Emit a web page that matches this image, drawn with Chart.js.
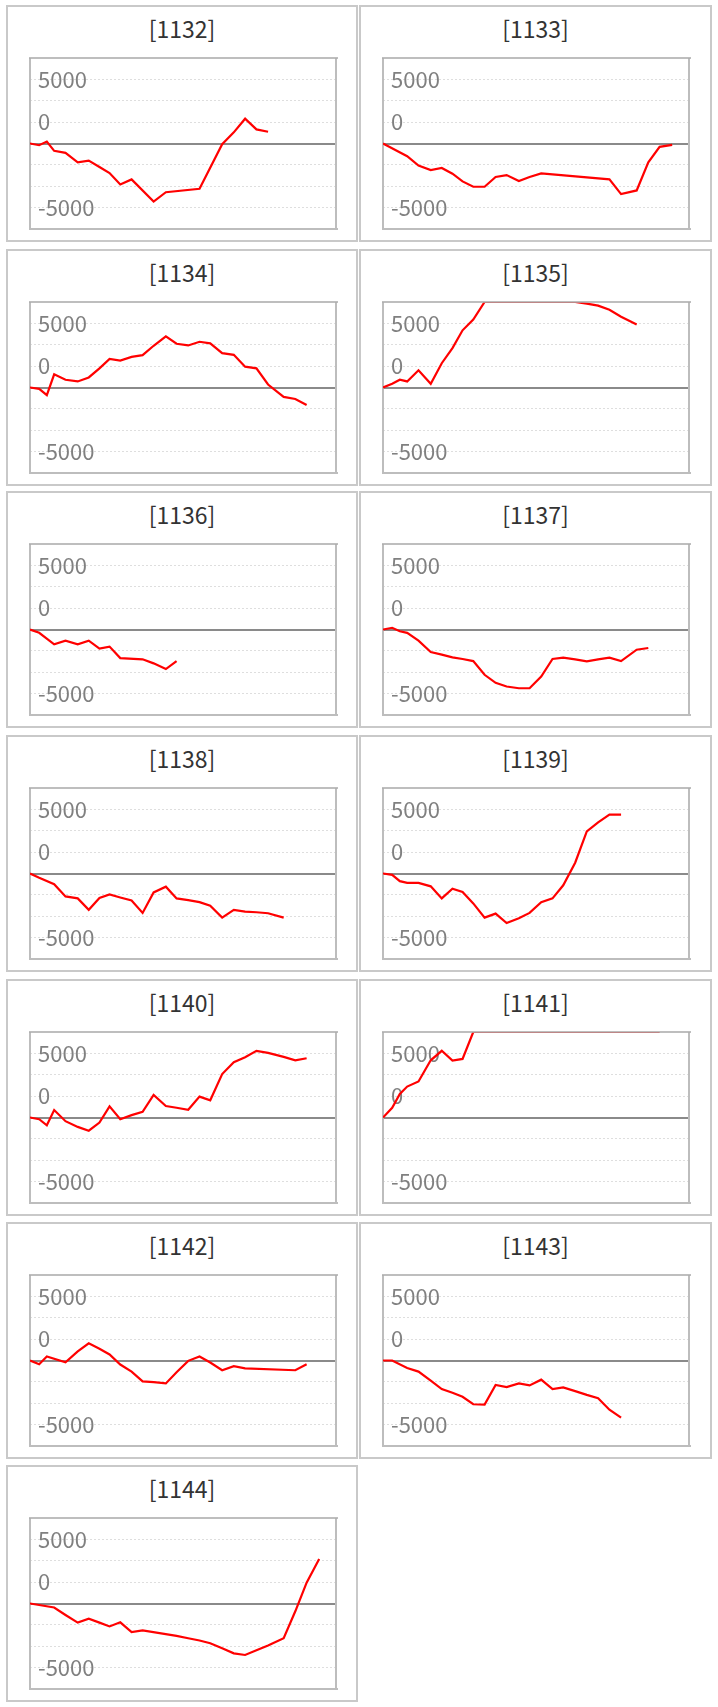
<!DOCTYPE html>
<html><head><meta charset="utf-8">
<script src="https://cdn.jsdelivr.net/npm/chart.js@4.4.1/dist/chart.umd.min.js"></script>
<style>
html,body{margin:0;padding:0;background:#fff;}
body{width:718px;height:1707px;position:relative;overflow:hidden;font-family:"Noto Sans CJK JP",sans-serif;}
.panel{position:absolute;box-sizing:border-box;border:2px solid #c9c9c9;width:352px;height:237px;background:#fff;}
.title{position:absolute;left:0;right:0;top:6px;height:30px;line-height:30px;text-align:center;font-size:23px;color:#333;}
.panel canvas{position:absolute;left:16px;top:45px;}
</style></head>
<body>
<script>
// common time positions (share of the period, %)
const xPos = [0,3.0,5.5,7.9,11.6,15.6,19.2,22.7,26.0,29.5,33.2,36.8,40.4,44.4,47.9,51.7,55.4,58.9,62.8,66.6,70.3,74.0,77.8,82.9,86.7,90.4,94.5];
const _ = null;
const codes = ['1132','1133','1134','1135','1136','1137','1138','1139','1140','1141','1142','1143','1144'];
const s1132 = [0,-200,230,-860,-1100,-2200,-2000,-2750,-3450,-4800,-4200,_,-6800,-5700,_,_,-5300,_,-80,1300,2900,1650,1370];
const s1133 = [0,_,_,-1490,-2590,-3100,-2860,-3530,-4430,-5060,-5060,-3920,-3690,-4390,-3920,-3490,_,_,_,_,_,-4190,-5920,-5490,-2200,-390,-160];
const s1134 = [0,-160,-900,1540,910,710,1180,2240,3350,3150,3580,3780,4880,5980,5120,4920,5350,5160,4020,3820,2440,2240,350,-1100,-1340,-2050];
const s1135 = [0,430,910,710,2010,430,2840,4610,6690,7950,10000,10000,10000,10000,10000,10000,10000,10000,10000,9800,9570,9090,8270,7360];
const s1136 = [0,-390,_,-1730,-1300,-1730,-1300,-2240,-2000,-3340,_,-3490,-3960,-4630,-3690];
const s1137 = [0,200,-200,-390,-1300,-2630,-2940,-3260,-3450,-3690,-5300,-6240,-6670,-6870,-6870,-5500,-3450,-3300,-3490,-3730,-3490,-3300,-3690,-2360,-2160];
const s1138 = [0,-510,_,-1260,-2680,-2910,-4250,-2870,-2440,-2800,-3150,-4610,-2210,-1540,-2910,-3110,-3350,-3780,-5160,-4250,-4450,-4530,-4650,-5160];
const s1139 = [0,-160,-900,-1100,-1100,-1500,-2910,-1770,-2170,-3500,-5160,-4690,-5790,-5240,-4610,-3350,-2910,-1380,1260,4920,5980,6890,6890];
const s1140 = [0,-200,-910,870,-430,-1100,-1540,-590,1300,-200,280,670,2640,1340,1140,910,2440,2010,5080,6460,7050,7800,7560,7090,6690,6930];
const s1141 = [0,1140,2760,3620,4210,6690,7800,6650,6850,10000,10000,10000,10000,10000,10000,10000,10000,10000,10000,10000,10000,10000,10000,10000,10000,10000];
const s1142 = [0,-430,470,_,-200,1060,2010,1380,710,-470,-1300,-2440,-2520,-2680,-1380,-40,470,-240,-1140,-670,-910,_,_,_,-1140,-430];
const s1143 = [0,0,_,-870,-1300,-2360,-3350,-3780,-4250,-5120,-5160,-2870,-3110,-2680,-2910,-2240,-3350,-3150,-3580,-4020,-4410,-5750,-6690];
const s1144 = [0,_,_,-470,-1340,-2240,-1770,-2240,-2680,-2200,-3350,-3150,_,_,-3780,-4060,-4330,-4650,-5240,-5830,-6020,-5470,-4920,-4060,-910,2440,5200];
const seriesList = [s1132,s1133,s1134,s1135,s1136,s1137,s1138,s1139,s1140,s1141,s1142,s1143,s1144];
// y axis
const yMin = -10000, yMax = 10000, yStep = 2500;
const yTickValues = [7500, 2500, -7500];
const yTickLabels = ['5000', '0', '-5000'];

// layout
const rowTops = [5,249,491,735,979,1222,1465];
const colLefts = [6,359];
const M = 6, PW = 306, PH = 171;

const frame = {
  id: 'frame',
  beforeDatasetsDraw(chart) {
    const {ctx, chartArea: a} = chart;
    ctx.save();
    ctx.strokeStyle = '#bdbdbd'; ctx.lineWidth = 2;
    ctx.beginPath();
    ctx.moveTo(a.left, a.top); ctx.lineTo(a.left, a.bottom);
    ctx.lineTo(a.right + 2, a.bottom);
    ctx.moveTo(a.right, a.top); ctx.lineTo(a.right, a.bottom);
    ctx.stroke();
    ctx.restore();
  },
  afterDatasetsDraw(chart) {
    const {ctx, chartArea: a} = chart;
    ctx.save();
    ctx.strokeStyle = 'rgba(172,172,172,0.78)'; ctx.lineWidth = 2;
    ctx.beginPath();
    ctx.moveTo(a.left - 1, a.top); ctx.lineTo(a.right + 2, a.top);
    ctx.stroke();
    ctx.restore();
  }
};

codes.forEach((code, i) => {
  const row = Math.floor(i / 2), col = i % 2;
  const p = document.createElement('div');
  p.className = 'panel';
  p.style.left = colLefts[col] + 'px';
  p.style.top = rowTops[row] + 'px';
  if (col === 1) p.style.width = '353px';
  const t = document.createElement('div');
  t.className = 'title';
  t.textContent = '[' + code + ']';
  p.appendChild(t);
  const c = document.createElement('canvas');
  c.width = PW + 2 * M; c.height = PH + 2 * M;
  c.style.width = c.width + 'px'; c.style.height = c.height + 'px';
  p.appendChild(c);
  document.body.appendChild(p);

  const vals = seriesList[i];
  const pts = [];
  vals.forEach((v, k) => { if (v !== null) pts.push({x: xPos[k], y: v}); });

  new Chart(c, {
    type: 'line',
    data: { datasets: [{ data: pts, borderColor: '#ff0000', borderWidth: 2.2, pointRadius: 0, tension: 0, fill: false, spanGaps: true }] },
    options: {
      responsive: false, animation: false, devicePixelRatio: 1, events: [],
      layout: { padding: M },
      plugins: { legend: { display: false }, tooltip: { enabled: false }, title: { display: false } },
      scales: {
        x: { type: 'linear', min: 0, max: 100, display: false },
        y: {
          min: yMin, max: yMax,
          ticks: {
            stepSize: yStep, autoSkip: false, mirror: true, padding: 8,
            color: '#808080', font: { family: '"Noto Sans CJK JP", sans-serif', size: 22 },
            callback: (v) => { const k = yTickValues.indexOf(v); return k >= 0 ? yTickLabels[k] : ''; }
          },
          grid: {
            drawTicks: false,
            color: (ctx) => { const v = ctx.tick ? ctx.tick.value : null; if (v === yMin || v === yMax) return 'rgba(0,0,0,0)'; return v === 0 ? '#8a8a8a' : '#dedede'; },
            lineWidth: (ctx) => (ctx.tick && ctx.tick.value === 0) ? 2 : 1
          },
          border: { display: false, dash: (ctx) => (ctx.tick && ctx.tick.value !== 0) ? [2, 2] : [] },
          afterFit: (s) => { s.width = 0; s.paddingTop = 0; s.paddingBottom = 0; s.paddingLeft = 0; s.paddingRight = 0; }
        }
      }
    },
    plugins: [frame]
  });
});
</script>
</body></html>
